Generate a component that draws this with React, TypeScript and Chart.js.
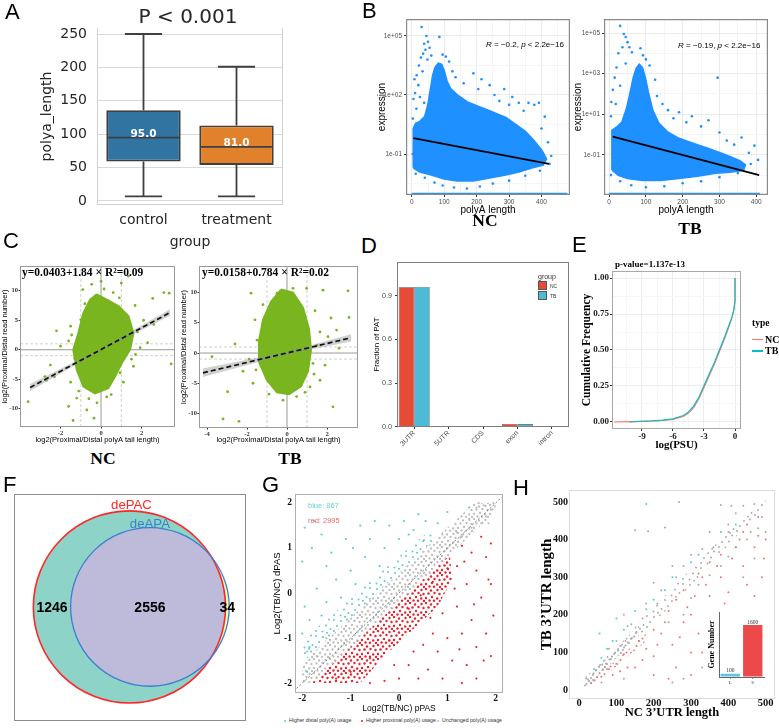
import React, { useEffect, useRef } from 'react';
import { Chart, registerables } from 'chart.js';

Chart.register(...registerables);

type P = [number, number];

const SANS = '"Liberation Sans", Arial, Helvetica, sans-serif';
const DEJAVU = '"DejaVu Sans", Verdana, sans-serif';
const SERIF = '"Liberation Serif", "Times New Roman", Times, serif';

// ================= DATA =================
// ---- A: box plot of polyA length ----
const A_GROUPS = ['control', 'treatment'];
const A_Q1 = [59, 54];
const A_Q3 = [136, 113];
const A_MEDIAN = [95, 81];
const A_WHISKER_LOW = [7, 7];
const A_WHISKER_HIGH = [250, 201];
const A_YTICKS = [0, 50, 100, 150, 200, 250];
const A_COLORS = ['#3274A1', '#E1812C'];
const A_TITLE = 'P < 0.001';

// ---- B: expression (log10) vs polyA length ----
const B_XTICKS = [0, 100, 200, 300, 400];
const B_XMINOR = [50, 150, 250, 350, 450];
const B_NC_YTICKS = [-1, 2, 5];
const B_NC_YMINOR = [-2.5, 0.5, 3.5];
const B_TB_YTICKS = [-1, 1, 3, 5];
const B_TB_YMINOR = [-2, 0, 2, 4];
const B_NC_CLOUD: P[] = [
  [5, -1.7], [5, 0.3], [12, 0.55], [25, 0.65], [40, 0.9], [50, 1.5], [58, 2.3], [65, 3.0], [72, 3.4], [82, 3.6],
  [92, 3.55], [100, 3.2], [108, 2.7], [120, 2.3], [140, 2.0], [170, 1.65], [200, 1.45], [230, 1.25], [260, 1.05],
  [290, 0.85], [320, 0.5], [350, 0.15], [375, -0.3], [400, -0.8], [415, -1.25], [405, -1.55], [370, -1.7],
  [330, -1.9], [290, -2.05], [240, -2.2], [190, -2.35], [140, -2.35], [100, -2.25], [60, -2.05], [25, -1.9],
];
const B_NC_POINTS: P[] = [
  [30, 5.45], [45, 5.0], [85, 4.95], [38, 4.6], [50, 4.7], [42, 4.3], [35, 4.1], [55, 4.4], [28, 3.9], [48, 3.8],
  [60, 4.0], [22, 3.5], [33, 3.2], [15, 3.0], [8, 2.8], [20, 2.5], [10, 2.1], [5, 1.8], [25, 1.9], [14, 1.3],
  [38, 1.6], [95, 4.05], [105, 3.95], [115, 3.7], [125, 3.2], [135, 2.9], [160, 2.6], [190, 3.1], [205, 2.3],
  [215, 2.8], [240, 2.5], [255, 2.0], [270, 1.7], [285, 2.3], [300, 1.5], [310, 1.9], [330, 1.6], [345, 1.2],
  [360, 1.6], [378, 1.5], [392, 1.6], [410, 0.9], [400, 0.3], [420, -0.4], [385, -0.6], [430, -1.1], [425, -1.5],
  [395, -1.85], [350, -2.1], [300, -2.35], [250, -2.5], [210, -2.65], [170, -2.75], [130, -2.7], [95, -2.6],
  [70, -2.45], [40, -2.2], [12, -2.0], [3, -1.0], [3, 0.8],
];
const B_NC_FIT: P[] = [[5, -0.19], [423, -1.5]];
const B_NC_ZERO_X = [0, 480];
const B_TB_CLOUD: P[] = [
  [8, -1.75], [8, 0.2], [20, 0.35], [35, 0.6], [48, 1.3], [58, 2.1], [66, 2.8], [74, 3.25], [82, 3.45], [90, 3.3],
  [98, 2.8], [106, 2.1], [118, 1.2], [135, 0.55], [160, 0.1], [190, -0.2], [230, -0.45], [270, -0.7], [300, -0.9],
  [330, -1.1], [355, -1.3], [370, -1.5], [365, -1.75], [330, -1.85], [290, -1.9], [240, -2.05], [190, -2.15],
  [140, -2.25], [90, -2.25], [50, -2.15], [25, -2.0],
];
const B_TB_POINTS: P[] = [
  [30, 5.35], [40, 4.95], [45, 4.8], [50, 4.55], [36, 4.3], [55, 4.3], [25, 4.0], [62, 4.05], [85, 4.25], [92, 3.9],
  [100, 3.7], [110, 3.4], [20, 3.3], [45, 3.5], [15, 2.8], [10, 2.2], [30, 2.4], [6, 1.6], [18, 1.5], [5, 0.9],
  [125, 2.7], [130, 1.9], [145, 1.5], [160, 1.2], [175, 0.8], [190, 1.1], [210, 0.6], [225, 0.9], [250, 0.4],
  [270, 0.7], [295, 2.8], [300, 0.1], [320, -0.3], [340, -0.5], [360, -0.15], [380, -0.9], [395, -0.55],
  [405, -1.25], [385, -1.45], [350, -1.9], [300, -2.1], [250, -2.3], [200, -2.4], [150, -2.55], [100, -2.6],
  [60, -2.5], [30, -2.3], [5, -2.0],
];
const B_TB_FIT: P[] = [[10, -0.11], [408, -2.0]];
const B_TB_ZERO_X = [0, 410];
const B_NC_R = '−0.2';
const B_TB_R = '−0.19';
const B_P = '2.2e−16';

// ---- C: log2 read ratio vs log2 tail-length ratio ----
const C_YTICKS = [-10, -5, 0, 5, 10];
const C_NC_XTICKS = [-2, 0, 2];
const C_TB_XTICKS = [-4, -2, 0, 2];
const C_REF_SOLID = [0];
const C_REF_DASH = [-1, 1];
const C_NC_CLOUD: P[] = [
  [-0.21, 9.4], [0.28, 8.5], [0.86, 7.4], [1.35, 5.7], [1.6, 2.85], [1.43, 0], [1.02, -2.3], [0.69, -4.55],
  [0.36, -6.5], [-0.3, -7.4], [-0.87, -6.25], [-1.2, -3.4], [-1.37, 0], [-1.12, 2.85], [-0.87, 6.25], [-0.54, 8.5],
];
const C_NC_POINTS: P[] = [
  [-3.6, -8.8], [-2.3, -4.6], [-2.77, -4.55], [-2.5, -2.6], [-2.2, 3.2], [-2.0, 0.6], [-1.6, -9.6], [-1.38, -12.0],
  [-0.35, -11.6], [-1.2, -8.2], [-0.7, -10.2], [0.28, -8.0], [-1.0, 5.1], [-0.9, 10.2], [-0.46, 11.1], [0, 11.6],
  [0.6, 9.7], [1.0, 11.3], [1.35, 12.5], [1.68, 7.5], [2.1, 5.0], [2.6, 4.3], [2.55, 8.7], [3.1, 9.7], [3.36, 9.6],
  [3.46, -2.4], [1.27, 1.7], [1.93, 0.34], [1.6, -2.8], [0.94, -3.9], [-1.5, -5.5], [-1.6, 1.5], [-1.5, 4.0],
  [1.8, 3.0], [1.7, -0.8], [1.1, -5.5], [0.5, -7.6], [-0.6, -8.3], [-1.1, -7.0], [0.9, 8.8], [-0.8, 7.8],
  [-1.3, -1.5], [1.5, -1.6], [-0.2, -9.0], [0.15, 10.3], [-1.45, 2.5], [2.3, 1.2], [-2.7, -5.2],
];
const C_NC_COEF = [0.0403, 1.84];
const C_NC_R2 = '0.09';
const C_NC_FIT_X = [-3.5, 3.4];
const C_NC_SE = [0.6, 0.15, 0.55];
const C_TB_CLOUD: P[] = [
  [-0.3, 10.5], [0.3, 10.0], [0.8, 7.5], [1.1, 4.0], [1.2, 0.5], [1.05, -3.0], [0.7, -5.5], [0.1, -6.8],
  [-0.5, -6.5], [-1.0, -4.5], [-1.4, -1.5], [-1.4, 2.0], [-1.2, 5.5], [-0.8, 8.5],
];
const C_TB_POINTS: P[] = [
  [-3.2, -10.9], [-2.4, -11.3], [-2.97, -6.4], [-3.75, -0.6], [-1.5, 2.15], [-1.8, 9.9], [-0.5, 9.9], [0.3, 10.7],
  [0.98, 10.7], [1.8, 10.4], [3.05, 10.3], [3.1, 5.9], [2.3, -8.9], [1.65, 3.5], [2.05, 2.7], [2.48, 3.8],
  [1.5, 1.3], [1.3, -1.7], [1.65, -4.5], [1.15, -5.6], [-0.2, -7.8], [0.48, -7.2], [-1.9, -1.0], [-2.2, -3.0],
  [-1.7, -5.0], [-1.6, 5.5], [-1.2, 8.0], [1.4, 7.0], [1.9, -2.0], [2.6, 0.8], [-0.9, -6.8], [0.9, -6.5],
  [-2.6, 1.5], [-1.55, -2.8], [1.35, -3.5], [2.2, 5.8],
];
const C_TB_COEF = [0.0158, 0.784];
const C_TB_R2 = '0.02';
const C_TB_FIT_X = [-4.2, 3.2];
const C_TB_SE = [0.7, 0.2, 0.6];

// ---- D: fraction of PAT per region ----
const D_CATS = ['3UTR', '5UTR', 'CDS', 'exon', 'intron'];
const D_NC = [0.957, 0.0006, 0.003, 0.019, 0.004];
const D_TB = [0.96, 0.0005, 0.004, 0.018, 0.003];
const D_YTICKS = [0, 0.3, 0.6, 0.9];
const D_GROUPS = ['NC', 'TB'];
const D_COLORS = ['#E64B35', '#4DBBD5'];

// ---- E: cumulative frequency of log(PSU) ----
const E_NC: P[] = [
  [-11.7, 0], [-10, 0.002], [-9, 0.004], [-8, 0.006], [-7, 0.01], [-6, 0.018], [-5, 0.038], [-4.5, 0.062],
  [-4, 0.1], [-3.5, 0.16], [-3, 0.24], [-2.5, 0.32], [-2, 0.4], [-1.5, 0.49], [-1, 0.58], [-0.6, 0.66],
  [-0.3, 0.72], [-0.1, 0.78], [0, 0.84], [0, 1],
];
const E_TB: P[] = [
  [-10.2, 0], [-9, 0.005], [-8, 0.008], [-7, 0.013], [-6, 0.022], [-5, 0.045], [-4.5, 0.07], [-4, 0.11],
  [-3.5, 0.172], [-3, 0.253], [-2.5, 0.333], [-2, 0.413], [-1.5, 0.502], [-1, 0.592], [-0.6, 0.67],
  [-0.3, 0.728], [-0.1, 0.786], [0, 0.845], [0, 1],
];
const E_XTICKS = [-9, -6, -3, 0];
const E_XMINOR = [-10.5, -7.5, -4.5, -1.5];
const E_YTICKS = [0, 0.25, 0.5, 0.75, 1];
const E_YMINOR = [0.125, 0.375, 0.625, 0.875];
const E_PVALUE = '1.137e-13';
const E_TYPES = ['NC', 'TB'];
const E_COLORS = ['#F8766D', '#00BFC4'];

// ---- F: Venn ----
const VENN_SETS = ['dePAC', 'deAPA'];
const VENN_ONLY_A = 1246;
const VENN_BOTH = 2556;
const VENN_ONLY_B = 34;

// ---- G: dPAS vs pPAS ----
const G_TICKS = [-2, -1, 0, 1, 2];
const G_DIAG = [-2.3, 2.3];
const G_BLUE_COUNT = 867;
const G_RED_COUNT = 2995;
const G_GRAY_BAND: P[] = [[-2.0, -2.0], [-2.0, -1.55], [1.55, 2.0], [2.0, 2.0], [2.0, 1.8], [-1.8, -2.0]];
const G_RED_DENSE: P[] = [[-1.8, -2.0], [1.05, 0.85], [1.1, 0.3], [0.8, -0.3], [0.3, -0.8], [-0.3, -1.4], [-0.8, -2.0]];
const G_CYAN_DENSE: P[] = [[-2.0, -1.55], [-2.0, -1.05], [-1.3, -0.4], [-0.6, 0.25], [0.2, 1.0], [0.65, 1.4], [0.75, 1.2]];
const G_RED_POINTS: P[] = [
  [1.9, 1.1], [1.8, 0.8], [1.6, 0.5], [1.5, 0.9], [1.3, 1.05], [1.2, 0.6], [1.85, 0.3], [1.7, -0.1], [1.4, 0.2],
  [1.95, -0.5], [1.5, -0.6], [1.2, -0.3], [1.8, -0.9], [1.6, -1.2], [1.3, -0.9], [1.0, -1.0], [1.75, -1.5],
  [1.4, -1.6], [1.1, -1.5], [0.8, -1.3], [1.3, -2.0], [0.9, -1.9], [1.6, -1.9], [0.6, -1.7], [0.4, -1.9],
  [0.2, -1.6], [0.0, -1.9], [-0.3, -1.95], [-0.6, -2.0], [0.7, -0.9], [0.9, -0.45], [1.15, 0.1], [0.5, -1.15],
  [0.3, -1.3], [-0.1, -1.6], [1.0, 0.55], [0.85, 0.45], [0.7, 0.25], [0.45, -0.05], [0.2, -0.35], [1.7, 1.25],
  [1.35, 0.7], [1.55, -0.25], [1.9, -1.4], [1.9, 0.2], [1.25, -1.25], [0.65, -0.55], [-0.2, -1.05],
  [-0.6, -1.45], [-1.0, -1.75], [-1.3, -1.9],
];
const G_CYAN_POINTS: P[] = [
  [-1.95, 1.45], [-1.6, 1.3], [-1.8, 1.0], [-2.0, 0.7], [-1.5, 0.6], [-1.1, 1.2], [-0.8, 1.5], [-0.5, 1.6],
  [-0.2, 1.5], [0.1, 1.6], [0.4, 1.75], [0.8, 1.55], [1.0, 1.8], [1.45, 1.9], [-1.3, 0.3], [-1.7, 0.1],
  [-1.95, -0.3], [-1.5, -0.2], [-1.0, 0.5], [-0.7, 0.8], [-0.3, 1.0], [0.0, 1.2], [0.3, 1.4], [-1.2, -0.1],
  [-0.9, 0.2], [-1.85, -0.6], [-1.6, -0.5], [-2.0, -0.9], [-1.4, 0.9], [-0.6, 1.2], [0.2, 1.3], [0.55, 1.6],
  [-1.75, 1.6], [-0.95, 1.0], [-1.9, -1.75], [-1.85, -1.2], [-0.4, 0.6], [0.5, 1.15],
];
const G_GRAY_POINTS: P[] = [
  [1.6, 1.9], [1.75, 1.95], [1.8, 1.7], [1.9, 1.85], [1.7, 1.55], [1.45, 1.65], [1.2, 1.35], [1.65, 2.0],
  [1.95, 2.0], [1.85, 1.55], [1.3, 1.25], [1.5, 1.45], [-1.9, -1.3], [-1.7, -1.4], [-1.5, -1.0], [0.9, 1.3], [1.0, 1.0],
];
const G_LEGEND = ['Higher distal poly(A) usage', 'Higher proximal poly(A) usage', 'Unchanged poly(A) usage'];
const G_COLORS = ['#5CCAD3', '#E8232B', '#BDBDBD'];

// ---- H: 3'UTR length TB vs NC ----
const H_TICKS = [0, 100, 200, 300, 400, 500];
const H_GRAY_BAND: P[] = [
  [8, 8], [10, 28], [60, 75], [150, 168], [250, 272], [350, 372], [450, 470], [500, 505], [505, 490],
  [450, 440], [350, 330], [250, 228], [150, 132], [60, 45], [20, 8],
];
const H_GRAY_CORE: P[] = [[12, 10], [15, 30], [80, 92], [160, 172], [165, 150], [90, 75], [30, 12]];
const H_RED_DENSE: P[] = [[25, 15], [60, 45], [100, 80], [140, 115], [180, 150], [175, 125], [130, 90], [90, 55], [50, 25], [30, 8]];
const H_RED_POINTS: P[] = [
  [150, 60], [180, 110], [200, 90], [220, 150], [250, 120], [260, 60], [280, 180], [300, 200], [320, 150],
  [330, 100], [350, 250], [360, 190], [380, 300], [400, 260], [420, 220], [440, 330], [450, 280], [470, 380],
  [480, 410], [490, 300], [400, 160], [360, 80], [300, 40], [240, 30], [200, 40], [460, 200], [430, 400],
  [410, 350], [390, 230], [370, 330], [340, 280], [310, 250], [290, 220], [270, 140], [230, 180], [210, 120],
  [170, 80], [130, 60], [110, 50], [90, 40], [160, 130], [350, 340], [450, 440], [480, 460], [420, 380],
  [495, 350], [470, 250], [300, 100], [330, 300], [260, 240], [240, 210], [200, 160], [120, 95], [100, 70],
  [80, 55], [60, 35], [500, 400], [380, 360], [440, 420], [320, 310], [280, 265],
];
const H_CYAN_POINTS: P[] = [
  [180, 495], [100, 190], [55, 150], [75, 110], [120, 160], [150, 210], [200, 240], [250, 300], [300, 340],
  [320, 360], [380, 420], [420, 440], [60, 85], [40, 55], [90, 130], [140, 175], [230, 265], [180, 215],
];
const H_GRAY_POINTS: P[] = [
  [150, 425], [185, 422], [230, 432], [268, 500], [380, 492], [408, 490], [440, 490], [470, 495], [120, 200],
  [200, 285], [250, 330], [300, 245], [350, 305], [400, 355], [450, 400], [480, 430], [330, 375], [280, 330],
  [220, 265], [180, 230], [350, 420], [400, 440], [420, 470], [300, 360], [260, 300], [240, 180], [280, 200],
  [320, 280], [380, 330], [420, 380], [460, 420], [490, 460], [500, 420], [470, 350], [440, 300], [100, 130],
  [80, 110], [130, 170], [170, 190], [210, 230], [60, 20], [250, 20], [280, 30], [330, 60], [120, 30],
  [400, 420], [360, 380],
];
const H_INSET_CATS = ['L', 'S'];
const H_INSET_VALUES = [100, 1600];
const H_INSET_COLORS = ['#5FC6E0', '#EC4A4A'];

// ================= HELPERS =================
const font = (size: number, family = SANS, weight = 'normal') => ({ size, family, weight });
const xy = (p: P[]) => p.map(([x, y]) => ({ x, y }));
const closed = (p: P[]) => xy([...p, p[0]]);

function fitter(pos: string, size: number) {
  return (s: any) => {
    if (pos === 'left') s.width = size;
    else s.height = size;
    s.paddingLeft = 0;
    s.paddingRight = 0;
    s.paddingTop = 0;
    s.paddingBottom = 0;
  };
}

function linAxis(o: any) {
  const major: number[] = o.ticks || [];
  const all = [...major, ...(o.minor || [])].sort((p, q) => p - q);
  const isMajor = (v: number) => major.some((t) => Math.abs(t - v) < 1e-9);
  const tl = o.tickLen || 0;
  return {
    type: 'linear',
    position: o.pos,
    min: o.min,
    max: o.max,
    afterBuildTicks: (s: any) => {
      s.ticks = all.map((v) => ({ value: v }));
    },
    afterFit: fitter(o.pos, o.size),
    ticks: {
      display: o.showLabels !== false,
      autoSkip: false,
      maxRotation: 0,
      minRotation: 0,
      padding: o.pad ?? 2,
      color: o.color || '#4d4d4d',
      font: o.font,
      callback: (v: number) => (isMajor(v) ? (o.fmt ? o.fmt(v) : String(v)) : ''),
    },
    grid: {
      display: true,
      drawOnChartArea: !!o.grid,
      drawTicks: tl > 0,
      tickLength: tl,
      color: (c: any) => (c.tick && isMajor(c.tick.value) ? o.grid || 'transparent' : o.minorGrid || 'transparent'),
      tickColor: (c: any) => (c.tick && isMajor(c.tick.value) ? o.tickMarkColor || '#333' : 'transparent'),
      lineWidth: 1,
    },
    border: { display: !!o.border, color: o.border || '#000', width: 1 },
    title: o.title
      ? { display: true, text: o.title, font: o.titleFont, color: o.titleColor || '#000', padding: o.titlePad }
      : { display: false },
  };
}

function catAxis(o: any) {
  const tl = o.tickLen || 0;
  return {
    type: 'category',
    position: 'bottom',
    afterFit: fitter('bottom', o.size),
    ticks: {
      autoSkip: false,
      maxRotation: o.rot || 0,
      minRotation: o.rot || 0,
      padding: o.pad ?? 2,
      color: o.color || '#333',
      font: o.font,
    },
    grid: {
      display: tl > 0,
      offset: false,
      drawOnChartArea: false,
      drawTicks: tl > 0,
      tickLength: tl,
      tickColor: o.tickMarkColor || '#333',
      color: 'transparent',
    },
    border: { display: !!o.border, color: o.border || '#000', width: 1 },
    title: o.title
      ? { display: true, text: o.title, font: o.titleFont, color: o.titleColor || '#000', padding: o.titlePad }
      : { display: false },
  };
}

function framePlugin(color: string, width = 1, sides = 'tlrb') {
  return {
    id: 'frame',
    afterDraw(chart: any) {
      const { ctx, chartArea: a } = chart;
      const h = width / 2;
      const l = a.left + h, r = a.right - h, t = a.top + h, b = a.bottom - h;
      ctx.save();
      ctx.strokeStyle = color;
      ctx.lineWidth = width;
      ctx.beginPath();
      if (sides.includes('t')) { ctx.moveTo(a.left, t); ctx.lineTo(a.right, t); }
      if (sides.includes('b')) { ctx.moveTo(a.left, b); ctx.lineTo(a.right, b); }
      if (sides.includes('l')) { ctx.moveTo(l, a.top); ctx.lineTo(l, a.bottom); }
      if (sides.includes('r')) { ctx.moveTo(r, a.top); ctx.lineTo(r, a.bottom); }
      ctx.stroke();
      ctx.restore();
    },
  };
}

const seg = (data: any[], color: string, width: number, dash: number[] = []) => ({
  data, showLine: true, borderColor: color, borderWidth: width, borderDash: dash, pointRadius: 0, fill: false,
});
const poly = (p: P[], bg: any, border = 'transparent', bw = 0.01) => ({
  data: closed(p), showLine: true, fill: 'shape', backgroundColor: bg, borderColor: border, borderWidth: bw, pointRadius: 0,
});
const dots = (p: P[], color: string, r: number) => ({
  data: xy(p), pointRadius: r, backgroundColor: color, pointBackgroundColor: color, pointBorderWidth: 0, showLine: false,
});

function dotPattern(color: string, tile: { w: number; h: number; spots: number[][] }, r: number) {
  const c = document.createElement('canvas');
  c.width = tile.w;
  c.height = tile.h;
  const g = c.getContext('2d') as CanvasRenderingContext2D;
  g.fillStyle = color;
  for (const [x, y] of tile.spots) {
    g.beginPath();
    g.arc(x, y, r, 0, Math.PI * 2);
    g.fill();
  }
  return g.createPattern(c, 'repeat');
}
const TILE_DENSE = {
  w: 16, h: 14,
  spots: [[1.5, 2], [6, 1], [11, 2.5], [14.5, 5], [3.5, 6], [8.5, 5.5], [12, 9], [1.2, 10.5], [6, 10], [9.5, 12.5], [14, 12.8], [4, 13]],
};
const TILE_MID = {
  w: 18, h: 16,
  spots: [[2, 2], [9, 3], [15, 1.5], [5, 8], [12, 7.5], [16.5, 11], [2, 13], [8.5, 13.5], [13, 14.8]],
};

// ================= PANEL CONFIGS =================
function makeA(ml: number, mb: number) {
  const boxPlugin = {
    id: 'whiskers',
    afterDatasetsDraw(chart: any) {
      const { ctx } = chart;
      const y = chart.scales.y;
      const meta = chart.getDatasetMeta(0);
      ctx.save();
      ctx.strokeStyle = '#3f3f3f';
      ctx.lineWidth = 1.8;
      meta.data.forEach((bar: any, i: number) => {
        const cx = bar.x;
        const w = bar.width;
        const yHi = y.getPixelForValue(A_WHISKER_HIGH[i]);
        const yLo = y.getPixelForValue(A_WHISKER_LOW[i]);
        const yQ1 = y.getPixelForValue(A_Q1[i]);
        const yQ3 = y.getPixelForValue(A_Q3[i]);
        const yMed = y.getPixelForValue(A_MEDIAN[i]);
        ctx.beginPath();
        ctx.moveTo(cx, yQ3); ctx.lineTo(cx, yHi);
        ctx.moveTo(cx, yQ1); ctx.lineTo(cx, yLo);
        ctx.moveTo(cx - w / 4, yHi); ctx.lineTo(cx + w / 4, yHi);
        ctx.moveTo(cx - w / 4, yLo); ctx.lineTo(cx + w / 4, yLo);
        ctx.moveTo(cx - w / 2 + 1, yMed); ctx.lineTo(cx + w / 2 - 1, yMed);
        ctx.stroke();
        ctx.fillStyle = '#ffffff';
        ctx.font = `bold 10.5px ${DEJAVU}`;
        ctx.textAlign = 'center';
        ctx.textBaseline = 'middle';
        ctx.fillText(A_MEDIAN[i].toFixed(1), cx, yMed - 3.5);
      });
      ctx.restore();
    },
  };
  return {
    type: 'bar',
    data: {
      labels: A_GROUPS,
      datasets: [{
        data: A_GROUPS.map((_, i) => [A_Q1[i], A_Q3[i]]),
        backgroundColor: A_COLORS,
        borderColor: '#3f3f3f',
        borderWidth: 1.8,
        borderSkipped: false,
        barPercentage: 0.8,
        categoryPercentage: 1,
      }],
    },
    options: {
      scales: {
        x: catAxis({ size: mb, font: font(14, DEJAVU), color: '#262626', pad: 7, title: 'group', titleFont: font(14, DEJAVU), titleColor: '#262626', titlePad: { top: 0, bottom: 4.6 } }),
        y: linAxis({ pos: 'left', size: ml, min: -6, max: 259, ticks: A_YTICKS, grid: '#d9d9d9', font: font(14, DEJAVU), color: '#262626', pad: 10, title: 'polya_length', titleFont: font(14, DEJAVU), titleColor: '#262626', titlePad: { top: 38.6, bottom: 0 } }),
      },
    },
    plugins: [framePlugin('#d0d0d0', 1, 'lrb'), boxPlugin],
  };
}

const expoFmt = (v: number) => {
  const e = Math.round(v);
  return '1e' + (e < 0 ? '-' : '+') + String(Math.abs(e)).padStart(2, '0');
};

function makeB(cloud: P[], points: P[], fit: P[], zeroX: number[], xr: number[], yr: number[], yTicks: number[], yMinor: number[], yTitlePad: number) {
  return (ml: number, mb: number) => {
    const BLUE = '#1E90FF';
    return {
      type: 'scatter',
      data: {
        datasets: [
          seg(xy(fit), '#000', 1.8),
          dots(points, BLUE, 1.3),
          poly(cloud, BLUE, BLUE, 2),
          seg(zeroX.map((x) => ({ x, y: yr[0] + 0.05 })), BLUE, 2.5),
        ],
      },
      options: {
        scales: {
          x: linAxis({ pos: 'bottom', size: mb, min: xr[0], max: xr[1], ticks: B_XTICKS, minor: B_XMINOR, grid: '#ebebeb', minorGrid: '#f5f5f5', font: font(6.5), tickLen: 2, pad: 1, title: 'polyA length', titleFont: font(10), titlePad: { top: 0, bottom: 1 } }),
          y: linAxis({ pos: 'left', size: ml, min: yr[0], max: yr[1], ticks: yTicks, minor: yMinor, fmt: expoFmt, grid: '#ebebeb', minorGrid: '#f5f5f5', font: font(6.5), tickLen: 2, pad: 2, title: 'expression', titleFont: font(10), titlePad: { top: yTitlePad, bottom: 0 } }),
        },
      },
      plugins: [framePlugin('#8a8a8a', 1.2)],
    };
  };
}

function makeC(cloud: P[], points: P[], coef: number[], fitX: number[], se: number[], xr: number[], yr: number[], xTicks: number[], yTitlePad: number, xTitlePad: number) {
  return (ml: number, mb: number) => {
    const GREEN = '#78B51E';
    const [a, b] = coef;
    const fit = fitX.map((x) => ({ x, y: a + b * x }));
    const bx = [fitX[0], 0, fitX[1]];
    const band = [
      ...bx.map((x, i) => [x, a + b * x + se[i]] as P),
      ...bx.slice().reverse().map((x, j) => [x, a + b * x - se[2 - j]] as P),
    ];
    const refs: any[] = [];
    for (const v of C_REF_DASH) {
      refs.push(seg([{ x: v, y: yr[0] }, { x: v, y: yr[1] }], '#c4c4c4', 0.8, [3, 2]));
      refs.push(seg([{ x: xr[0], y: v }, { x: xr[1], y: v }], '#c4c4c4', 0.8, [3, 2]));
    }
    for (const v of C_REF_SOLID) {
      refs.push(seg([{ x: v, y: yr[0] }, { x: v, y: yr[1] }], '#9a9a9a', 1));
      refs.push(seg([{ x: xr[0], y: v }, { x: xr[1], y: v }], '#9a9a9a', 1));
    }
    return {
      type: 'scatter',
      data: {
        datasets: [
          seg(fit, '#111', 1.7, [5, 3]),
          poly(band, 'rgba(150,150,150,0.45)'),
          dots(points, GREEN, 1.4),
          poly(cloud, GREEN, GREEN, 2),
          ...refs,
        ],
      },
      options: {
        scales: {
          x: linAxis({ pos: 'bottom', size: mb, min: xr[0], max: xr[1], ticks: xTicks, font: font(6.5, SERIF, 'bold'), color: '#333', tickLen: 1.5, pad: 1, title: 'log2(Proximal/Distal polyA tail length)', titleFont: font(7.5), titlePad: { top: 0, bottom: xTitlePad } }),
          y: linAxis({ pos: 'left', size: ml, min: yr[0], max: yr[1], ticks: C_YTICKS, font: font(6.5, SERIF, 'bold'), color: '#333', tickLen: 1.5, pad: 0.5, title: 'log2(Proximal/Distal read number)', titleFont: font(7.5), titlePad: { top: yTitlePad, bottom: 0 } }),
        },
      },
      plugins: [framePlugin('#9a9a9a', 1)],
    };
  };
}

function makeD(ml: number, mb: number) {
  return {
    type: 'bar',
    data: {
      labels: D_CATS,
      datasets: [D_NC, D_TB].map((vals, i) => ({
        label: D_GROUPS[i],
        data: vals,
        backgroundColor: D_COLORS[i],
        borderColor: '#444',
        borderWidth: 0.6,
        categoryPercentage: 0.9,
        barPercentage: 1,
      })),
    },
    options: {
      scales: {
        x: catAxis({ size: mb, rot: 45, font: font(7), color: '#4d4d4d', tickLen: 2, pad: 0 }),
        y: linAxis({ pos: 'left', size: ml, min: -0.002, max: 1.131, ticks: D_YTICKS, fmt: (v: number) => v.toFixed(1), font: font(7.2), tickLen: 2, pad: 3, title: 'Fraction of PAT', titleFont: font(8), titlePad: { top: 7.2, bottom: 0 } }),
      },
    },
    plugins: [framePlugin('#7f7f7f', 1)],
  };
}

function makeE(ml: number, mb: number) {
  return {
    type: 'scatter',
    data: {
      datasets: [seg(xy(E_TB), E_COLORS[1], 1.1), seg(xy(E_NC), E_COLORS[0], 1.1)],
    },
    options: {
      scales: {
        x: linAxis({ pos: 'bottom', size: mb, min: -11.9, max: 0.58, ticks: E_XTICKS, minor: E_XMINOR, grid: '#ececec', minorGrid: '#f6f6f6', font: font(9, SERIF, 'bold'), color: '#1a1a1a', tickLen: 2, pad: 0, title: 'log(PSU)', titleFont: font(11, SERIF, 'bold'), titlePad: { top: 0, bottom: -0.6 } }),
        y: linAxis({ pos: 'left', size: ml, min: -0.049, max: 1.049, ticks: E_YTICKS, minor: E_YMINOR, fmt: (v: number) => v.toFixed(2), grid: '#ececec', minorGrid: '#f6f6f6', font: font(9, SERIF, 'bold'), color: '#1a1a1a', tickLen: 2, pad: 1, title: 'Cumulative Frequency', titleFont: font(11.5, SERIF, 'bold'), titlePad: { top: 7.8, bottom: 0 } }),
      },
    },
    plugins: [framePlugin('#a8a8a8', 1)],
  };
}

function vennGeometry() {
  const rA = Math.sqrt((VENN_ONLY_A + VENN_BOTH) / Math.PI);
  const rB = Math.sqrt((VENN_ONLY_B + VENN_BOTH) / Math.PI);
  const lens = (d: number) => {
    if (d <= Math.abs(rA - rB)) return Math.PI * Math.min(rA, rB) ** 2;
    if (d >= rA + rB) return 0;
    const p = rA * rA * Math.acos((d * d + rA * rA - rB * rB) / (2 * d * rA));
    const q = rB * rB * Math.acos((d * d + rB * rB - rA * rA) / (2 * d * rB));
    const s = 0.5 * Math.sqrt((-d + rA + rB) * (d + rA - rB) * (d - rA + rB) * (d + rA + rB));
    return p + q - s;
  };
  let lo = Math.abs(rA - rB);
  let hi = rA + rB;
  for (let i = 0; i < 60; i++) {
    const mid = (lo + hi) / 2;
    if (lens(mid) > VENN_BOTH) lo = mid;
    else hi = mid;
  }
  return { rA, rB, d: (lo + hi) / 2 };
}

function makeF() {
  const venn = {
    id: 'venn',
    afterDatasetsDraw(chart: any) {
      const { ctx } = chart;
      const { x, y } = chart.scales;
      const g = vennGeometry();
      const k = x.getPixelForValue(1) - x.getPixelForValue(0);
      const ax = x.getPixelForValue(0), ay = y.getPixelForValue(0);
      const bx = x.getPixelForValue(g.d), by = y.getPixelForValue(0);
      const ra = g.rA * k, rb = g.rB * k;
      const circ = (cx: number, cy: number, r: number) => { ctx.beginPath(); ctx.arc(cx, cy, r, 0, Math.PI * 2); };
      ctx.save();
      circ(ax, ay, ra); ctx.fillStyle = '#8DD3C7'; ctx.fill();
      circ(bx, by, rb); ctx.fillStyle = '#FFFFB3'; ctx.fill();
      ctx.save(); circ(ax, ay, ra); ctx.clip(); circ(bx, by, rb); ctx.fillStyle = '#BEBADA'; ctx.fill(); ctx.restore();
      circ(ax, ay, ra); ctx.strokeStyle = '#FF2626'; ctx.lineWidth = 1.6; ctx.stroke();
      circ(bx, by, rb); ctx.strokeStyle = '#3A7FCF'; ctx.lineWidth = 1.3; ctx.stroke();
      ctx.textAlign = 'center';
      ctx.textBaseline = 'alphabetic';
      ctx.font = `13.2px ${SANS}`;
      ctx.fillStyle = '#FF2626';
      ctx.fillText(VENN_SETS[0], ax + 2, ay - ra - 2);
      ctx.fillStyle = '#3A7FCF';
      ctx.fillText(VENN_SETS[1], bx, by - rb);
      ctx.font = `bold 14px ${SANS}`;
      ctx.fillStyle = '#000';
      ctx.textBaseline = 'middle';
      ctx.fillText(String(VENN_ONLY_A), (ax - ra + bx - rb) / 2, ay + 1);
      ctx.fillText(String(VENN_BOTH), bx, ay + 1);
      ctx.fillText(String(VENN_ONLY_B), (ax + ra + bx + rb) / 2, ay + 1);
      ctx.restore();
    },
  };
  return {
    type: 'scatter',
    data: { datasets: [] },
    options: {
      scales: {
        x: { display: false, min: -41.8, max: 42.2 },
        y: { display: false, min: -41.3, max: 40.9 },
      },
    },
    plugins: [venn, framePlugin('#8c8c8c', 1)],
  };
}

function makeG(ml: number, mb: number) {
  const [cy, rd, gr] = G_COLORS;
  return {
    type: 'scatter',
    data: {
      datasets: [
        seg(G_DIAG.map((v) => ({ x: v, y: v })), '#666', 0.8, [2, 2]),
        dots(G_CYAN_POINTS, cy, 1.1),
        dots(G_RED_POINTS, rd, 1.1),
        dots(G_GRAY_POINTS, gr, 1.1),
        poly(G_CYAN_DENSE, dotPattern(cy, TILE_MID, 1.0)),
        poly(G_RED_DENSE, dotPattern(rd, TILE_DENSE, 1.2)),
        poly(G_GRAY_BAND, dotPattern(gr, TILE_DENSE, 1.15)),
      ],
    },
    options: {
      scales: {
        x: linAxis({ pos: 'bottom', size: mb, min: -2.15, max: 2.15, ticks: G_TICKS, font: font(9.5, SERIF, 'bold'), color: '#111', pad: 0, title: 'Log2(TB/NC) pPAS', titleFont: font(8.5), titlePad: { top: 0, bottom: 0.9 } }),
        y: linAxis({ pos: 'left', size: ml, min: -2.22, max: 2.2, ticks: G_TICKS, font: font(9.5, SERIF, 'bold'), color: '#111', pad: 3, title: 'Log2(TB/NC) dPAS', titleFont: font(9.5), titlePad: { top: 11.3, bottom: 0 } }),
      },
    },
    plugins: [framePlugin('#b0b0b0', 1)],
  };
}

function makeH(ml: number, mb: number) {
  const RED = '#EE7474', GRAY = '#A9A9A9', CYAN = '#45D0D8';
  return {
    type: 'scatter',
    data: {
      datasets: [
        dots(H_CYAN_POINTS, CYAN, 1),
        dots(H_RED_POINTS, RED, 1),
        dots(H_GRAY_POINTS, GRAY, 1),
        poly(H_RED_DENSE, dotPattern(RED, TILE_DENSE, 1.0)),
        poly(H_GRAY_CORE, dotPattern(GRAY, TILE_DENSE, 1.1)),
        poly(H_GRAY_BAND, dotPattern(GRAY, TILE_MID, 0.95)),
      ],
    },
    options: {
      scales: {
        x: linAxis({ pos: 'bottom', size: mb, min: -27, max: 525, ticks: H_TICKS, font: font(10.5, SERIF, 'bold'), color: '#111', pad: -2, title: 'NC 3’UTR length', titleFont: font(12.5, SERIF, 'bold'), titlePad: { top: 0, bottom: 0.5 } }),
        y: linAxis({ pos: 'left', size: ml, min: -24, max: 532, ticks: H_TICKS, font: font(10, SERIF, 'bold'), color: '#111', pad: 1, title: 'TB 3’UTR length', titleFont: font(15, SERIF, 'bold'), titlePad: { top: 1, bottom: 0 } }),
      },
    },
    plugins: [framePlugin('#dcdcdc', 1)],
  };
}

function makeInset(ml: number, mb: number) {
  const bg = {
    id: 'whiteBg',
    beforeDraw(chart: any) {
      const { ctx, width, height } = chart;
      ctx.save();
      ctx.fillStyle = '#fff';
      ctx.fillRect(0, 0, width, height);
      ctx.restore();
    },
  };
  const labels = {
    id: 'barLabels',
    afterDatasetsDraw(chart: any) {
      const { ctx } = chart;
      const meta = chart.getDatasetMeta(0);
      ctx.save();
      ctx.font = `5.5px ${SERIF}`;
      ctx.fillStyle = '#333';
      ctx.textAlign = 'center';
      ctx.textBaseline = 'bottom';
      meta.data.forEach((bar: any, i: number) => ctx.fillText(String(H_INSET_VALUES[i]), bar.x, bar.y));
      ctx.restore();
    },
  };
  return {
    type: 'bar',
    data: {
      labels: H_INSET_CATS,
      datasets: [{ data: H_INSET_VALUES, backgroundColor: H_INSET_COLORS, barPercentage: 0.86, categoryPercentage: 1 }],
    },
    options: {
      scales: {
        x: catAxis({ size: mb, font: font(5, SERIF), color: '#333', pad: 1, tickLen: 1.5, border: '#666' }),
        y: linAxis({ pos: 'left', size: ml, min: 0, max: 2000, ticks: [0], showLabels: false, border: '#666', title: 'Gene Number', titleFont: font(8, SERIF, 'bold'), titlePad: { top: 2.2, bottom: 0 } }),
      },
    },
    plugins: [bg, labels],
  };
}

// ================= COMPONENTS =================
function ChartBox({ plot, m, make }: { plot: number[]; m: number[]; make: (ml: number, mb: number) => any }) {
  const ref = useRef<HTMLCanvasElement | null>(null);
  const [L, T, R, B] = plot;
  const [ml, mt, mr, mb] = m;
  const w = R - L + ml + mr;
  const h = B - T + mt + mb;
  useEffect(() => {
    if (!ref.current) return;
    const cfg = make(ml, mb);
    const opts = cfg.options || {};
    cfg.options = {
      ...opts,
      responsive: false,
      maintainAspectRatio: false,
      animation: false,
      devicePixelRatio: 1,
      events: [],
      layout: { padding: { left: 0, top: mt, right: mr, bottom: 0 } },
      plugins: { legend: { display: false }, tooltip: { enabled: false }, ...(opts.plugins || {}) },
    };
    const chart = new Chart(ref.current, cfg);
    return () => chart.destroy();
  }, []);
  return (
    <canvas
      ref={ref}
      width={w}
      height={h}
      style={{ position: 'absolute', left: L - ml, top: T - mt, width: w, height: h }}
    />
  );
}

function T({ x, y, s, f = SANS, w = 'normal', c = '#000', a = 'center', it = false, children }: any) {
  const tx = a === 'center' ? '-50%' : a === 'right' ? '-100%' : '0';
  return (
    <div
      style={{
        position: 'absolute', left: x, top: y, transform: `translate(${tx}, -50%)`, fontSize: s, fontFamily: f,
        fontWeight: w, color: c, lineHeight: 1, whiteSpace: 'nowrap', fontStyle: it ? 'italic' : 'normal',
      }}
    >
      {children}
    </div>
  );
}

const Sq = ({ x, y, c }: any) => (
  <div style={{ position: 'absolute', left: x, top: y, width: 9, height: 9, background: c, boxSizing: 'border-box', border: '0.6px solid #555' }} />
);
const Ln = ({ x, y, c }: any) => (
  <div style={{ position: 'absolute', left: x, top: y - 0.75, width: 11, height: 1.5, background: c }} />
);
const Dot = ({ x, y, c }: any) => (
  <div style={{ position: 'absolute', left: x - 1.2, top: y - 1.2, width: 2.4, height: 2.4, borderRadius: 2, background: c }} />
);

export default function App() {
  const letter = (ch: string, x: number, y: number) => <T x={x} y={y} s={22} a="left">{ch}</T>;
  const eqNC = `y=${C_NC_COEF[0]}+${C_NC_COEF[1]} × R²=${C_NC_R2}`;
  const eqTB = `y=${C_TB_COEF[0]}+${C_TB_COEF[1]} × R²=${C_TB_R2}`;
  return (
    <div style={{ position: 'absolute', left: 0, top: 0, width: 779, height: 728, background: '#fff', overflow: 'hidden' }}>
      <ChartBox plot={[97, 28, 283, 205]} m={[97, 28, 5, 50]} make={makeA} />
      <ChartBox plot={[406, 19, 570, 195]} m={[40, 5, 4, 22]} make={makeB(B_NC_CLOUD, B_NC_POINTS, B_NC_FIT, B_NC_ZERO_X, [-18, 488], [-3.08, 5.86], B_NC_YTICKS, B_NC_YMINOR, 10)} />
      <ChartBox plot={[604, 19, 768, 195]} m={[40, 5, 6, 22]} make={makeB(B_TB_CLOUD, B_TB_POINTS, B_TB_FIT, B_TB_ZERO_X, [-14, 432], [-2.98, 5.69], B_TB_YTICKS, B_TB_YMINOR, 8)} />
      <ChartBox plot={[20, 266, 175, 427]} m={[20, 5, 4, 20]} make={makeC(C_NC_CLOUD, C_NC_POINTS, C_NC_COEF, C_NC_FIT_X, C_NC_SE, [-4.0, 3.65], [-13.1, 14.2], C_NC_XTICKS, 0.5, 2.5)} />
      <ChartBox plot={[199, 266, 358, 428]} m={[20, 5, 4, 20]} make={makeC(C_TB_CLOUD, C_TB_POINTS, C_TB_COEF, C_TB_FIT_X, C_TB_SE, [-4.4, 3.55], [-12.4, 14.4], C_TB_XTICKS, 0.5, 3.5)} />
      <ChartBox plot={[397, 262, 569, 427]} m={[32, 4, 2, 30]} make={makeD} />
      <ChartBox plot={[612, 271, 741, 429]} m={[40, 4, 38, 22]} make={makeE} />
      <ChartBox plot={[14, 494, 246, 721]} m={[0, 0, 0, 0]} make={makeF} />
      <ChartBox plot={[295, 494, 503, 693]} m={[35, 4, 4, 22]} make={makeG} />
      <ChartBox plot={[569, 490, 776, 699]} m={[32, 4, 3, 22]} make={makeH} />
      <ChartBox plot={[719, 612, 764, 677]} m={[14, 7, 4, 13]} make={makeInset} />

      {letter('A', 5, 11.5)}
      {letter('B', 362, 11)}
      {letter('C', 3, 240.5)}
      {letter('D', 361, 245.5)}
      {letter('E', 572, 244.5)}
      {letter('F', 3, 485)}
      {letter('G', 262, 485)}
      {letter('H', 513, 488)}

      <T x={188} y={15.5} s={20} f={DEJAVU} c="#262626">{A_TITLE}</T>

      <T x={486} y={45} s={8} a="left"><i>R</i> = {B_NC_R}, <i>p</i> &lt; {B_P}</T>
      <T x={678} y={46} s={8} a="left"><i>R</i> = {B_TB_R}, <i>p</i> &lt; {B_P}</T>
      <T x={485} y={221} s={17.5} f={SERIF} w="bold">NC</T>
      <T x={690} y={229} s={17.5} f={SERIF} w="bold">TB</T>

      <T x={22} y={273} s={11.5} f={SERIF} w="bold" a="left">{eqNC}</T>
      <T x={202} y={273} s={11.5} f={SERIF} w="bold" a="left">{eqTB}</T>
      <T x={103} y={459} s={17.5} f={SERIF} w="bold">NC</T>
      <T x={290} y={459} s={17.5} f={SERIF} w="bold">TB</T>

      <T x={538} y={275.5} s={7} c="#333" a="left">group</T>
      <Sq x={537.5} y={281} c={D_COLORS[0]} />
      <Sq x={537.5} y={291} c={D_COLORS[1]} />
      <T x={550} y={285.5} s={5} c="#333" a="left">{D_GROUPS[0]}</T>
      <T x={550} y={295.5} s={5} c="#333" a="left">{D_GROUPS[1]}</T>

      <T x={615} y={263.5} s={9} f={SERIF} w="bold" a="left">p-value={E_PVALUE}</T>
      <T x={752} y={324} s={9.5} f={SERIF} w="bold" a="left">type</T>
      <Ln x={752} y={339.5} c={E_COLORS[0]} />
      <Ln x={752} y={351} c={E_COLORS[1]} />
      <T x={765} y={339.5} s={10} f={SERIF} w="bold" a="left">{E_TYPES[0]}</T>
      <T x={765} y={351} s={10} f={SERIF} w="bold" a="left">{E_TYPES[1]}</T>

      <T x={308} y={506} s={7.5} c="#6ACFD6" a="left">blue: {G_BLUE_COUNT}</T>
      <T x={308} y={521} s={7.5} c="#E8696B" a="left">red: {G_RED_COUNT}</T>
      <Dot x={285} y={721} c={G_COLORS[0]} />
      <T x={289} y={721} s={5.2} c="#333" a="left">{G_LEGEND[0]}</T>
      <Dot x={362} y={721} c={G_COLORS[1]} />
      <T x={366} y={721} s={5.2} c="#333" a="left">{G_LEGEND[1]}</T>
      <Dot x={438} y={721} c={G_COLORS[2]} />
      <T x={442} y={721} s={5.2} c="#333" a="left">{G_LEGEND[2]}</T>
    </div>
  );
}
